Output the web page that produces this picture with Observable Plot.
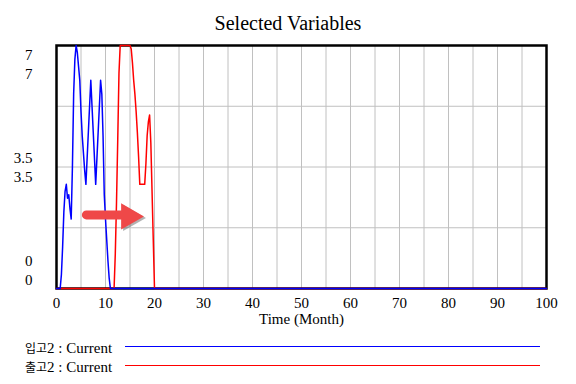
<!DOCTYPE html>
<html><head><meta charset="utf-8">
<script src="https://cdn.jsdelivr.net/npm/d3@7"></script>
<script src="https://cdn.jsdelivr.net/npm/@observablehq/plot@0.6"></script>
<style>
body{margin:0;background:#fff;}
#wrap{position:relative;width:576px;height:384px;overflow:hidden;font-family:"Liberation Serif","Times New Roman",serif;color:#000;}
#title{height:36px;box-sizing:border-box;padding-top:13px;line-height:20px;font-size:20px;text-align:center;}
#chart svg{display:block;}
#legend{position:absolute;left:0;top:336px;width:576px;height:48px;}
.row{position:absolute;left:25px;height:19px;line-height:19px;font-size:15px;white-space:nowrap;}
.ko{font-family:"Noto Sans CJK KR",sans-serif;font-size:12px;}
.swatch{position:absolute;left:125px;width:415px;height:1px;}
</style></head>
<body>
<div id="wrap">
  <div id="title"></div>
  <div id="chart"></div>
  <div id="legend"></div>
</div>
<script>
// ---- data ----
const chartTitle = "Selected Variables";
const xAxisLabel = "Time (Month)";
const seriesNames = ["입고2 : Current", "출고2 : Current"];
const seriesColors = ["#0000ff", "#ff0000"];

// 입고2 (blue)
const inTime  = [0, 0.75, 1, 1.25, 1.5, 1.75, 2, 2.25, 2.5, 2.75, 3, 3.25, 3.5, 3.75, 4, 4.25, 4.5, 4.75, 5, 5.25, 5.5, 5.75, 6, 6.5, 7, 7.5, 8, 8.5, 9, 9.25, 9.5, 9.75, 10, 10.25, 10.5, 10.75, 11, 100];
const inValue = [0, 0, 0.4, 1.2, 2.2, 2.8, 3.0, 2.6, 2.7, 2.3, 2.0, 3.5, 5.6, 6.6, 7.0, 6.8, 6.4, 6.0, 5.1, 4.4, 3.9, 3.4, 3.0, 4.5, 6.0, 4.5, 3.0, 4.5, 6.0, 5.6, 4.4, 2.7, 2.0, 1.4, 0.8, 0.3, 0, 0];

// 출고2 (red)
const outTime  = [0, 11.75, 12, 12.25, 12.5, 12.75, 13, 15, 15.25, 15.5, 15.75, 16, 16.25, 16.5, 16.75, 17, 18, 18.25, 18.5, 18.75, 19, 19.25, 19.5, 19.75, 20, 100];
const outValue = [0, 0, 1.0, 2.5, 4.3, 6.2, 7, 7, 6.9, 6.5, 6.0, 5.6, 5.1, 4.5, 3.8, 3.0, 3.0, 3.6, 4.4, 4.8, 5.0, 4.2, 2.8, 1.4, 0, 0];

const xTickValues = [0, 10, 20, 30, 40, 50, 60, 70, 80, 90, 100];
const xGridValues = [0, 5, 10, 15, 20, 25, 30, 35, 40, 45, 50, 55, 60, 65, 70, 75, 80, 85, 90, 95, 100];
const yGridValues = [0, 1.75, 3.5, 5.25, 7];
const yTickValues = [7, 3.5, 0];
const yTickLabels = ["7", "3.5", "0"];

// screenshot annotation arrow (data units)
const arrowTail = [6.1];
const arrowBase = [13.9];
const arrowTip = [17.8];
const arrowLevel = [2.12];

// ---- build ----
const inData = inTime.map((t, i) => ({t, v: inValue[i]}));
const outData = outTime.map((t, i) => ({t, v: outValue[i]}));
const shaft = [{t: arrowTail[0], v: arrowLevel[0]}, {t: arrowBase[0], v: arrowLevel[0]}];
const tip = [{t: arrowTip[0], v: arrowLevel[0]}];

document.getElementById("title").textContent = chartTitle;

// two stacked labels per tick (one per series), top / middle / bottom placement
const labelOffsets = [[10, 29], [-9, 10.5], [-27.5, -8.5]];
const yLabelMarks = [];
yTickValues.forEach((v, i) => {
  labelOffsets[i].forEach(off => {
    yLabelMarks.push(Plot.text([v], {y: d => d, text: () => yTickLabels[i], frameAnchor: "left", textAnchor: "end", dx: -24, dy: off, fill: "black"}));
  });
});

const arrowColor = "#ef4848";
const shadowColor = "#555";

const svg = Plot.plot({
  width: 576, height: 300,
  marginLeft: 56, marginRight: 30, marginTop: 9, marginBottom: 48,
  x: {domain: [0, 100]},
  y: {domain: [0, 7], axis: null},
  style: {fontFamily: "'Liberation Serif','Times New Roman',serif", fontSize: "15px", color: "black", background: "white", overflow: "visible"},
  marks: [
    Plot.gridX(xGridValues, {stroke: "#c0c0c0", strokeOpacity: 1, strokeWidth: 1}),
    Plot.gridY(yGridValues, {stroke: "#c0c0c0", strokeOpacity: 1, strokeWidth: 1}),
    Plot.frame({stroke: "black", strokeWidth: 2.5}),
    Plot.line(outData, {x: "t", y: "v", stroke: seriesColors[1], strokeWidth: 1.5}),
    Plot.line(inData, {x: "t", y: "v", stroke: seriesColors[0], strokeWidth: 1.5}),
    // annotation shadow
    Plot.line(shaft, {x: "t", y: "v", stroke: shadowColor, strokeWidth: 9, strokeLinecap: "round", strokeOpacity: 0.45, dx: 2, dy: 3, ariaLabel: "arrow-shadow"}),
    Plot.dot(tip, {x: "t", y: "v", symbol: "triangle", rotate: 90, r: 9.8, fill: shadowColor, fillOpacity: 0.45, stroke: "none", dx: -13, dy: 3, ariaLabel: "arrow-shadow"}),
    // annotation arrow
    Plot.line(shaft, {x: "t", y: "v", stroke: arrowColor, strokeWidth: 9, strokeLinecap: "round"}),
    Plot.dot(tip, {x: "t", y: "v", symbol: "triangle", rotate: 90, r: 9.8, fill: arrowColor, stroke: "none", dx: -15, dy: 1.5}),
    Plot.axisX(xTickValues, {tickSize: 0, tickPadding: 9, label: null, fill: "black"}),
    ...yLabelMarks,
    Plot.text([xAxisLabel], {frameAnchor: "bottom", text: d => d, dy: 35, fill: "black"})
  ]
});

// blur for shadow
const ns = "http://www.w3.org/2000/svg";
const defs = document.createElementNS(ns, "defs");
defs.innerHTML = '<filter id="sh" x="-20%" y="-50%" width="140%" height="200%"><feGaussianBlur stdDeviation="2"/></filter>';
svg.insertBefore(defs, svg.firstChild);
svg.querySelectorAll('[aria-label="arrow-shadow"]').forEach(g => g.setAttribute("filter", "url(#sh)"));

document.getElementById("chart").appendChild(svg);

// legend
const legend = document.getElementById("legend");
seriesNames.forEach((name, i) => {
  const row = document.createElement("div");
  row.className = "row";
  row.style.top = (1.5 + 19 * i) + "px";
  row.innerHTML = name.replace(/([\uac00-\ud7a3]+)/g, '<span class="ko">$1</span>');
  legend.appendChild(row);
  const sw = document.createElement("div");
  sw.className = "swatch";
  sw.style.top = (10 + 19 * i) + "px";
  sw.style.background = seriesColors[i];
  legend.appendChild(sw);
});
</script>
</body></html>
